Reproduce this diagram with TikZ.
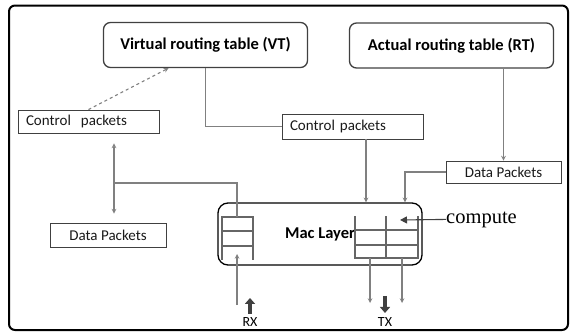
\documentclass[tikz,border=0pt]{standalone}
\usepackage{fontspec}
\setmainfont{Carlito}
\newfontfamily\cmpfont{Liberation Serif}
\usepackage{tikz}
\usetikzlibrary{arrows.meta,calc}
\definecolor{gry}{gray}{0.5}
\definecolor{dkg}{gray}{0.25}
\tikzset{tbl/.style={draw=dkg,line width=1.3pt,rounded corners=7pt,minimum width=204pt,minimum height=45pt,font=\fontsize{16.5}{18}\selectfont\bfseries}}
\tikzset{pkt/.style={draw=dkg,line width=0.9pt,inner ysep=0pt,text=black!90,font=\fontsize{15}{17}\selectfont}}
\tikzset{ctl/.style={pkt,text width=125pt,inner xsep=8pt,align=left}}
\tikzset{mac/.style={draw=black,line width=1.3pt,rounded corners=10pt,minimum width=204pt,minimum height=62pt,font=\fontsize{16.5}{18}\selectfont\bfseries}}
\tikzset{que/.style={draw=black!60,line width=1.3pt}}
\tikzset{lnk/.style={draw=gry,line width=1.1pt}}
\tikzset{fat/.style={draw=dkg,line width=4pt,-{Triangle[width=10pt,length=6pt]}}}

\begin{document}
\begin{tikzpicture}[x=1pt,y=-1pt,>=stealth]
    \useasboundingbox (0,0) rectangle (570,332);
    \draw [line width=2pt,rounded corners=6pt] (9,5.5) rectangle (568,330);

    \node[tbl] (vt) at (205.5,45) {Virtual routing table (VT)};
    \node[tbl] (rt) at (451.5,45.5) {Actual routing table (RT)};
    \node[ctl,minimum height=23pt] (cp1) at (88.5,121.5) {Control\ \ packets};
    \node[ctl,minimum height=25pt] (cp2) at (352.5,126.5) {Control packets};
    \node[pkt,minimum width=116pt,minimum height=24pt] (dp1) at (108,235) {Data Packets};
    \node[pkt,minimum width=115pt,minimum height=22pt] (dp2) at (503.5,172) {Data Packets};
    \node[mac] (ml) at (320,234) {Mac Layer};
    \node[font=\cmpfont\fontsize{20.5}{22}\selectfont,inner sep=0pt,anchor=base west] (cmp) at (446,223) {compute};
    \node[font=\fontsize{14}{16}\selectfont] (rx) at (250,322) {RX};
    \node[font=\fontsize{14}{16}\selectfont] (tx) at (385,322) {TX};

    % queues inside the mac layer
    \draw [que] (222,260) -- (222,217) -- (253,217) -- (253,260);
    \draw [que] (222,231) -- (253,231) (222,246) -- (253,246);
    \draw [que] (355,216) -- (355,258) -- (418,258) -- (418,216);
    \draw [que] (386,216) -- (386,258) (355,230) -- (418,230) (355,245) -- (418,245);
    \coordinate (bus) at (114,183);
    \coordinate (rxq) at (237,217);
    \coordinate (rxin) at (237,254);
    \coordinate (rxout) at (237,305);
    \coordinate (txa) at (370,258);
    \coordinate (txb) at (402,258);
    \coordinate (cmpt) at (400,220);

    \draw [lnk,dashed,->] (cp1.north) to ($(vt.south west)!0.32!(vt.south east)$);
    \draw [lnk] (vt.south) |- (cp2.west);
    \draw [lnk,->] ($(cp2.south)+(13.5,0)$) to ($(ml.north)+(46,0)$);
    \draw [lnk,->] (rt.south -| dp2.north) to (dp2.north);
    \draw [lnk,->] (dp2.west) -| ($(ml.north)+(85,0)$);
    \draw [lnk,<->] ([yshift=-10pt]cp1.south -| bus) to ([yshift=9pt]dp1.north -| bus);
    \draw [lnk] (bus) -| (rxq);
    \draw [lnk,->] (rxout) to (rxin);
    \draw [lnk,->] (txa) to ++(0,45);
    \draw [lnk,->] (txb) to ++(0,45);
    \draw [lnk,-{Triangle[length=7pt,width=7pt]},dkg] (cmp.west) to (cmpt);
    \draw [fat] (rx.north) -- ++(0,-16);
    \draw [fat] ([yshift=18pt]tx.north) -- ++(0,17);
\end{tikzpicture}
\end{document}
